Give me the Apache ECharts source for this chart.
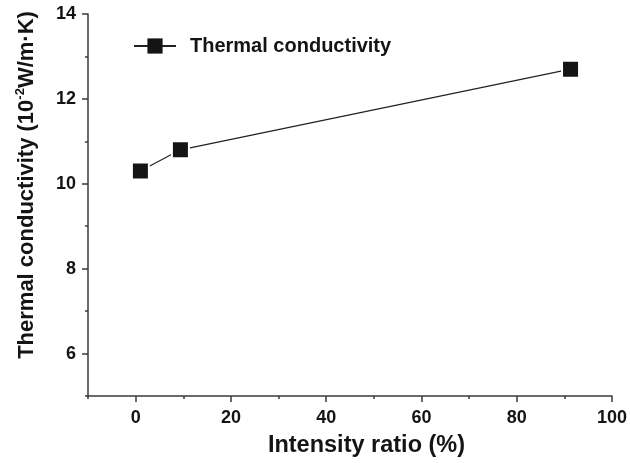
<!DOCTYPE html>
<html>
<head>
<meta charset="utf-8">
<script src="https://cdn.jsdelivr.net/npm/echarts@6/dist/echarts.min.js"></script>
<style>
  html, body { margin: 0; padding: 0; background: #fff; }
  #chart { width: 630px; height: 463px; }
</style>
</head>
<body>
<div id="chart"></div>
<script>
// data
const ratio = [1, 9.4, 91.3]
const conductivity = [10.3, 10.8, 12.7]
const xMajorTicks = [0, 20, 40, 60, 80, 100]
const xMinorTicks = [-10, 10, 30, 50, 70, 90]
const yMajorTicks = [6, 8, 10, 12, 14]
const yMinorTicks = [5, 7, 9, 11, 13]

const ink = '#141414'
const axisColor = '#3a3a3a'
const font = 'Liberation Sans, Arial, Helvetica, sans-serif'

let points = ratio.map((x, i) => [x, conductivity[i]])

let chart = echarts.init(document.getElementById('chart'))
let option = {
  animation: false,
  backgroundColor: '#fff',
  textStyle: { fontFamily: font, color: ink },
  grid: { left: 88, right: 16, top: 14, bottom: 64, containLabel: false },
  legend: {
    left: 128,
    top: 31,
    itemWidth: 42,
    itemHeight: 19,
    itemStyle: { borderWidth: 0 },
    textStyle: { fontSize: 20, fontWeight: 'bold', color: ink, fontFamily: font, padding: [0, 0, 0, 9] },
    data: ['Thermal conductivity']
  },
  xAxis: [
    {
      type: 'value',
      min: -10,
      max: 100,
      interval: 10,
      name: 'Intensity ratio (%)',
      nameLocation: 'middle',
      nameGap: 38,
      nameTextStyle: { fontSize: 23.5, fontWeight: 'bold', color: ink, fontFamily: font, padding: [0, 0, 0, 33] },
      axisLine: { onZero: false, lineStyle: { color: axisColor, width: 1.5 } },
      axisTick: { customValues: xMajorTicks, length: 6, lineStyle: { color: axisColor, width: 1.5 } },
      axisLabel: { customValues: xMajorTicks, margin: 13, fontSize: 18, fontWeight: 'bold', color: ink, fontFamily: font },
      splitLine: { show: false }
    },
    {
      type: 'value',
      position: 'bottom',
      min: -10,
      max: 100,
      interval: 10,
      axisLine: { show: false, onZero: false },
      axisTick: { customValues: xMinorTicks, length: 3, lineStyle: { color: axisColor, width: 1.5 } },
      axisLabel: { show: false },
      splitLine: { show: false }
    }
  ],
  yAxis: [
    {
      type: 'value',
      min: 5,
      max: 14,
      interval: 1,
      name: '{a|Thermal conductivity (10}{s|-2}{a|W/m·K)}',
      nameLocation: 'middle',
      nameGap: 48,
      nameTextStyle: {
        padding: [0, 0, 0, 40],
        rich: {
          a: { fontSize: 22, fontWeight: 'bold', color: ink, fontFamily: font, lineHeight: 26 },
          s: { fontSize: 13, fontWeight: 'bold', color: ink, fontFamily: font, verticalAlign: 'top', lineHeight: 14 }
        }
      },
      axisLine: { onZero: false, lineStyle: { color: axisColor, width: 1.5 } },
      axisTick: { customValues: yMajorTicks, length: 6, lineStyle: { color: axisColor, width: 1.5 } },
      axisLabel: { customValues: yMajorTicks, margin: 12, fontSize: 18, fontWeight: 'bold', color: ink, fontFamily: font },
      splitLine: { show: false }
    },
    {
      type: 'value',
      position: 'left',
      min: 5,
      max: 14,
      interval: 1,
      axisLine: { show: false, onZero: false },
      axisTick: { customValues: yMinorTicks, length: 3, lineStyle: { color: axisColor, width: 1.5 } },
      axisLabel: { show: false },
      splitLine: { show: false }
    }
  ],
  series: [
    {
      name: 'Thermal conductivity',
      type: 'line',
      xAxisIndex: 0,
      yAxisIndex: 0,
      data: points,
      symbol: 'rect',
      symbolSize: 17,
      lineStyle: { color: '#222', width: 1.2 },
      itemStyle: { color: '#141414', borderColor: '#fff', borderWidth: 2 }
    }
  ]
}
chart.setOption(option)
</script>
</body>
</html>
